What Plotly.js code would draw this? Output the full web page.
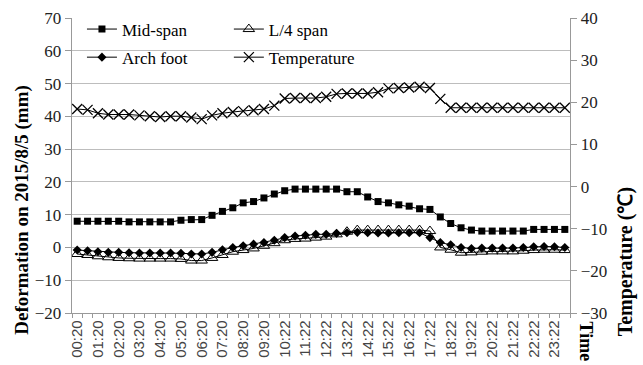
<!DOCTYPE html>
<html>
<head>
<meta charset="utf-8">
<script src="https://cdn.plot.ly/plotly-3.0.1.min.js"></script>
<style>html,body{margin:0;padding:0;background:#fff;}#chart{width:643px;height:365px;}</style>
</head>
<body>
<div id="chart"></div>
<script>
const times = ["00:20","00:50","01:20","01:50","02:20","02:50","03:20","03:50","04:20","04:50","05:20","05:50","06:20","06:50","07:20","07:50","08:20","08:50","09:20","09:50","10:22","10:52","11:22","11:52","12:22","12:52","13:22","13:52","14:22","14:52","15:22","15:52","16:22","16:52","17:22","17:52","18:22","18:52","19:22","19:52","20:22","20:52","21:22","21:52","22:22","22:52","23:22","23:52"];
const midSpan = [8.0,8.0,8.0,8.0,8.0,7.8,7.8,7.8,7.8,7.8,8.3,8.5,8.5,9.8,11.0,12.1,13.6,14.0,15.1,16.3,17.3,17.8,17.8,17.8,17.8,17.8,17.0,17.0,15.4,14.0,13.6,13.0,12.6,11.8,11.6,9.3,7.3,6.0,5.3,5.0,5.0,5.0,5.0,5.0,5.5,5.5,5.5,5.5];
const quarterSpan = [-2.0,-2.3,-2.7,-3.0,-3.2,-3.3,-3.4,-3.4,-3.4,-3.4,-3.5,-4.0,-4.0,-3.2,-2.3,-1.3,-0.8,-0.3,0.5,1.3,2.2,2.6,2.7,3.0,3.3,4.0,4.8,5.3,5.3,5.3,5.3,5.3,5.3,5.3,5.0,0.0,-0.7,-1.6,-1.5,-1.3,-1.2,-1.2,-1.2,-1.0,-0.8,-0.7,-0.7,-0.8];
const archFoot = [-0.8,-1.0,-1.3,-1.5,-1.5,-1.6,-1.7,-1.7,-1.7,-1.7,-1.8,-2.0,-2.0,-1.5,-0.7,0.0,0.5,1.0,1.5,2.2,3.0,3.5,3.7,4.0,4.0,4.3,4.5,4.6,4.5,4.4,4.4,4.5,4.5,4.5,3.0,1.5,0.8,0.0,-0.3,-0.2,-0.2,-0.2,-0.2,0.0,0.2,0.3,0.2,0.0];
const temperature = [18.4,18.2,17.4,17.1,17.1,17.1,16.9,16.7,16.5,16.7,16.7,16.4,16.0,16.9,17.4,17.7,17.9,18.1,18.4,19.2,20.9,21.0,21.0,21.0,21.3,22.0,22.1,22.1,22.1,22.4,23.3,23.4,23.5,23.7,23.4,20.8,18.7,18.7,18.7,18.7,18.7,18.7,18.7,18.7,18.7,18.7,18.7,18.7];
const seriesNames = ["Mid-span","L/4 span","Arch foot","Temperature"];

const alias = {};
times.forEach((t, i) => { if (i % 2 === 1) alias[t] = ' '; });

const serif = "Liberation Serif, Times New Roman, serif";
const lineStyle = {color: '#000', width: 1};

const traces = [
  {x: times, y: midSpan, name: seriesNames[0], type: 'scatter', mode: 'lines+markers', legendgroup: 'a',
   line: lineStyle, marker: {symbol: 'square', size: 7, color: '#000'}, legend: 'legend'},
  {x: times, y: quarterSpan, name: seriesNames[1], type: 'scatter', mode: 'lines+markers', legendgroup: 'b',
   line: lineStyle, marker: {symbol: 'triangle-up-open', size: 10, color: '#000', line: {width: 1, color: '#000'}}, legend: 'legend2'},
  {x: times, y: archFoot, name: seriesNames[2], type: 'scatter', mode: 'lines+markers', legendgroup: 'c',
   line: lineStyle, marker: {symbol: 'diamond', size: 7, color: '#000'}, legend: 'legend'},
  {x: times, y: temperature, name: seriesNames[3], type: 'scatter', mode: 'lines+markers', yaxis: 'y2', legendgroup: 'd',
   line: lineStyle, marker: {symbol: 'x-thin-open', size: 10, color: '#000', line: {width: 1.3, color: '#000'}}, legend: 'legend2'}
];

const layout = {
  width: 643, height: 365,
  margin: {l: 72, r: 73, t: 13, b: 52},
  paper_bgcolor: '#fff', plot_bgcolor: '#fff',
  font: {family: serif, size: 17, color: '#000'},
  showlegend: true,
  xaxis: {
    type: 'category', range: [-0.5, 47.5], tickmode: 'linear', tick0: 0, dtick: 1,
    tickson: 'boundaries', ticks: 'outside', ticklen: 4, tickcolor: '#999', tickwidth: 1,
    labelalias: alias, tickangle: -90,
    tickfont: {family: 'Liberation Sans, Arial, sans-serif', size: 15, color: '#444'},
    showline: true, linecolor: '#999', linewidth: 1.3, showgrid: false, zeroline: false, fixedrange: true
  },
  yaxis: {
    range: [-20, 70], dtick: 10, tick0: 0, ticks: 'outside', ticklen: 6, tickcolor: '#999',
    showline: true, linecolor: '#999', linewidth: 1.3, showgrid: true, gridcolor: '#bdbdbd', gridwidth: 1,
    zeroline: false, tickfont: {family: serif, size: 17, color: '#222'}
  },
  yaxis2: {
    overlaying: 'y', side: 'right', range: [-30, 40], dtick: 10, tick0: 0, ticks: 'outside', ticklen: 6, tickcolor: '#999',
    showline: true, linecolor: '#999', linewidth: 1.3, showgrid: false, zeroline: false,
    tickfont: {family: serif, size: 17, color: '#222'}
  },
  legend: {x: 0.02, y: 1.022, xanchor: 'left', yanchor: 'top', bgcolor: 'rgba(0,0,0,0)',
           font: {family: serif, size: 17, color: '#000'}, tracegroupgap: 3, itemwidth: 30},
  legend2: {x: 0.315, y: 1.022, xanchor: 'left', yanchor: 'top', bgcolor: 'rgba(0,0,0,0)',
           font: {family: serif, size: 17, color: '#000'}, tracegroupgap: 3, itemwidth: 30},
  shapes: [{type: 'rect', xref: 'paper', yref: 'paper', x0: 0.003, x1: 0.594, y0: 0.83, y1: 0.997,
            fillcolor: '#fff', line: {width: 0}, layer: 'between'}],
  annotations: [
    {text: '<b>Deformation on 2015/8/5 (mm)</b>', xref: 'paper', yref: 'paper', x: -0.1004, y: 0.35,
     textangle: -90, showarrow: false, xanchor: 'center', yanchor: 'middle', font: {family: serif, size: 19, color: '#000'}},
    {text: '<b>Temperature (℃)</b>', xref: 'paper', yref: 'paper', x: 1.1104, y: 0.175,
     textangle: -90, showarrow: false, xanchor: 'center', yanchor: 'middle', font: {family: serif, size: 20, color: '#000'}},
    {text: '<b>Time</b>', xref: 'paper', yref: 'paper', x: 1.0321, y: -0.0967,
     textangle: 90, showarrow: false, xanchor: 'center', yanchor: 'middle', font: {family: serif, size: 18, color: '#000'}}
  ]
};

Plotly.newPlot('chart', traces, layout, {displayModeBar: false, staticPlot: true});
</script>
</body>
</html>
